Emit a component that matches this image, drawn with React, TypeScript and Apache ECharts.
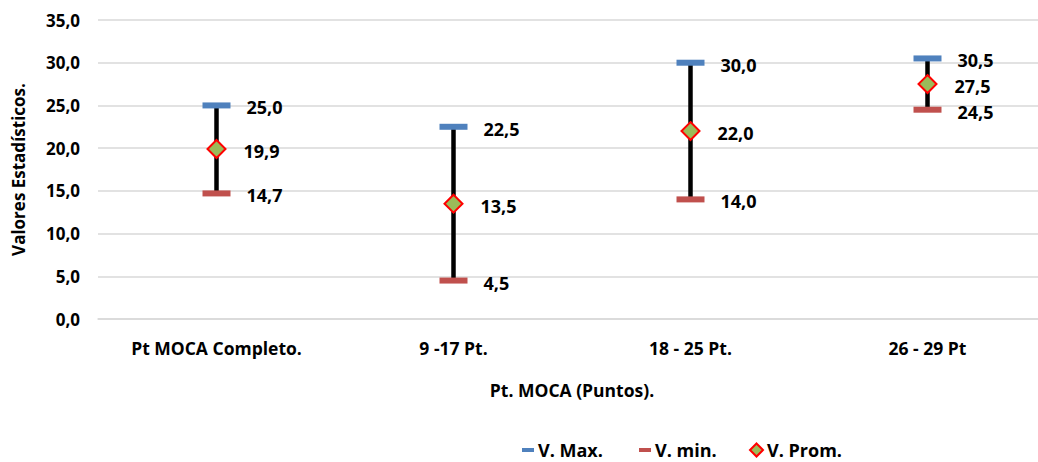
import React, { useEffect, useRef } from "react";
import * as echarts from "echarts";

const categories = ["Pt MOCA Completo.", "9 -17 Pt.", "18 - 25 Pt.", "26 - 29 Pt"];
const maxValues = [25.0, 22.5, 30.0, 30.5];
const minValues = [14.7, 4.5, 14.0, 24.5];
const avgValues = [19.9, 13.5, 22.0, 27.5];
const yTicks = { min: 0, max: 35, interval: 5 };

const FONT = "'Open Sans', 'Noto Sans', sans-serif";
const fmt = (v: number) => v.toFixed(1).replace(".", ",");

export default function App() {
  const ref = useRef<HTMLDivElement>(null);
  useEffect(() => {
    if (!ref.current) return;
    const chart = echarts.init(ref.current, undefined, { renderer: "svg" });
    const rangeData = categories.map((_, i) => [i, minValues[i], maxValues[i]]);
    const labelBase = {
      show: true,
      position: "right" as const,
      color: "#000",
      fontFamily: FONT,
      fontWeight: "bold" as const,
      fontSize: 18,
      offset: [0, 2],
      formatter: (p: any) => fmt(Array.isArray(p.value) ? p.value[1] : p.value),
    };
    const legendText = { color: "#000", fontFamily: FONT, fontWeight: "bold", fontSize: 18, padding: [0, 0, 0, -1] };
    chart.setOption({
      animation: false,
      textStyle: { fontFamily: FONT },
      grid: { left: 98, top: 20, height: 299, width: 948 },
      xAxis: {
        type: "category",
        data: categories,
        boundaryGap: true,
        axisLine: { show: true, lineStyle: { color: "#d9d9d9", width: 1.5 } },
        axisTick: { show: false },
        axisLabel: { color: "#000", fontFamily: FONT, fontWeight: "bold", fontSize: 17.5, margin: 20 },
        name: "Pt. MOCA (Puntos).",
        nameLocation: "middle",
        nameGap: 62,
        nameTextStyle: { color: "#000", fontFamily: FONT, fontWeight: "bold", fontSize: 17.5 },
      },
      yAxis: {
        type: "value",
        min: yTicks.min,
        max: yTicks.max,
        interval: yTicks.interval,
        axisLine: { show: false },
        axisTick: { show: false },
        splitLine: { lineStyle: { color: "#d9d9d9", width: 1.5 } },
        axisLabel: {
          color: "#000",
          fontFamily: FONT,
          fontWeight: "bold",
          fontSize: 17,
          margin: 18,
          formatter: (v: number) => fmt(v),
        },
        name: "Valores Estadísticos.",
        nameLocation: "middle",
        nameRotate: 90,
        nameGap: 71,
        nameTextStyle: { color: "#000", fontFamily: FONT, fontWeight: "bold", fontSize: 17 },
      },
      legend: [
        {
          data: [{ name: "V. Max.", icon: "rect" }],
          left: 517,
          top: 436,
          itemWidth: 12,
          itemHeight: 4,
          textStyle: legendText,
        },
        {
          data: [{ name: "V. min.", icon: "rect" }],
          left: 634,
          top: 436,
          itemWidth: 12,
          itemHeight: 4,
          textStyle: legendText,
        },
        {
          data: [{ name: "V. Prom.", icon: "diamond" }],
          left: 744,
          top: 436,
          itemWidth: 13,
          itemHeight: 13,
          textStyle: legendText,
        },
      ],
      series: [
        {
          type: "custom",
          name: "range",
          z: 1,
          silent: true,
          renderItem: (params: any, api: any) => {
            const lo = api.coord([api.value(0), api.value(1)]);
            const hi = api.coord([api.value(0), api.value(2)]);
            return {
              type: "line",
              shape: { x1: lo[0], y1: lo[1], x2: hi[0], y2: hi[1] },
              style: { stroke: "#000", lineWidth: 4.5 },
            };
          },
          encode: { x: 0, y: [1, 2] },
          data: rangeData,
        },
        {
          type: "scatter",
          name: "V. Max.",
          z: 3,
          symbol: "rect",
          symbolSize: [28, 6],
          itemStyle: { color: "#4F81BD", opacity: 1 },
          label: { ...labelBase, distance: 16 },
          data: maxValues,
        },
        {
          type: "scatter",
          name: "V. min.",
          z: 3,
          symbol: "rect",
          symbolSize: [28, 6],
          itemStyle: { color: "#C0504D", opacity: 1 },
          label: { ...labelBase, distance: 16 },
          data: minValues,
        },
        {
          type: "scatter",
          name: "V. Prom.",
          z: 4,
          symbol: "diamond",
          symbolSize: 18,
          itemStyle: { color: "#9BBB59", borderColor: "#FF0000", borderWidth: 2, opacity: 1 },
          label: { ...labelBase, distance: 17 },
          data: avgValues,
        },
      ],
    });
    return () => chart.dispose();
  }, []);
  return (
    <div
      ref={ref}
      style={{ position: "fixed", left: 0, top: 0, width: 1046, height: 462, background: "#fff" }}
    />
  );
}
